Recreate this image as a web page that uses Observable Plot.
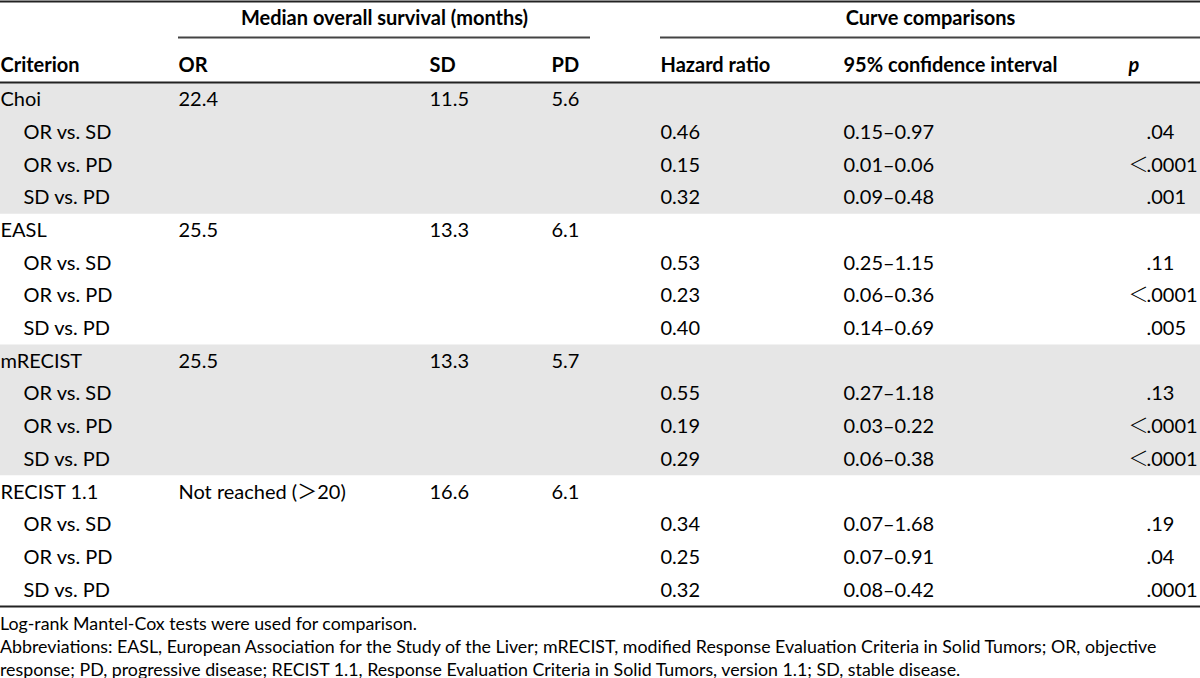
<!DOCTYPE html>
<html>
<head>
<meta charset="utf-8">
<script src="https://cdn.jsdelivr.net/npm/d3@7"></script>
<script src="https://cdn.jsdelivr.net/npm/@observablehq/plot@0.6"></script>
<style>
  html, body { margin: 0; padding: 0; background: #fff; }
  #chart { width: 1200px; }
  #notes { font-family: Lato, "Noto Sans CJK SC", "Noto Sans", sans-serif; font-size: 17.8px; line-height: 23px; color: #000; margin: 0; padding: 0; }
  #notes p { margin: 0; }
</style>
</head>
<body>
<div id="chart"></div>
<div id="notes"></div>
<script>
// ---------- data ----------
const criteria = ["Choi", "EASL", "mRECIST", "RECIST 1.1"];
const medianOR = ["22.4", "25.5", "25.5", "Not reached (\uFF1E20)"];
const medianSD = ["11.5", "13.3", "13.3", "16.6"];
const medianPD = ["5.6", "6.1", "5.7", "6.1"];
const comparisons = ["OR vs. SD", "OR vs. PD", "SD vs. PD"];
const hazardRatio = [
  ["0.46", "0.15", "0.32"],
  ["0.53", "0.23", "0.40"],
  ["0.55", "0.19", "0.29"],
  ["0.34", "0.25", "0.32"]
];
const ciLow = [
  ["0.15", "0.01", "0.09"],
  ["0.25", "0.06", "0.14"],
  ["0.27", "0.03", "0.06"],
  ["0.07", "0.07", "0.08"]
];
const ciHigh = [
  ["0.97", "0.06", "0.48"],
  ["1.15", "0.36", "0.69"],
  ["1.18", "0.22", "0.38"],
  ["1.68", "0.91", "0.42"]
];
const pValues = [
  [".04", "<.0001", ".001"],
  [".11", "<.0001", ".005"],
  [".13", "<.0001", "<.0001"],
  [".19", ".04", ".0001"]
];
const spanners = ["Median overall survival (months)", "Curve comparisons"];
const headers = ["Criterion", "OR", "SD", "PD", "Hazard ratio", "95% confidence interval", "p"];
const footnotes = [
  "Log-rank Mantel-Cox tests were used for comparison.",
  "Abbreviations: EASL, European Association for the Study of the Liver; mRECIST, modified Response Evaluation Criteria in Solid Tumors; OR, objective response; PD, progressive disease; RECIST 1.1, Response Evaluation Criteria in Solid Tumors, version 1.1; SD, stable disease."
];

// ---------- layout ----------
const W = 1200, H = 612;
const colX = [0, 178, 429, 551, 660, 843, 1146];
const pHeadX = 1128;
const indent = 23;
const spanY = 18, headY = 65;
const ruleTop = 1, ruleSpan = 37, ruleHead = 82, ruleBottom = 606;
const spanExtent = [[178, 590], [660, 1200]];
const rowTop = 83, rowH = (ruleBottom - rowTop) / 16;
const fs = 20;

// build table rows
const rows = [];
criteria.forEach((c, g) => {
  rows.push({group: g, cells: [
    {col: 0, text: c}, {col: 1, text: medianOR[g]}, {col: 2, text: medianSD[g]}, {col: 3, text: medianPD[g]}
  ]});
  comparisons.forEach((cmp, k) => {
    const pv = pValues[g][k];
    const lt = pv.startsWith("<");
    rows.push({group: g, cells: [
      {col: 0, text: cmp, indent: true},
      {col: 4, text: hazardRatio[g][k]},
      {col: 5, text: `${ciLow[g][k]}\u2013${ciHigh[g][k]}`},
      {col: 6, text: lt ? pv.slice(1) : pv, lt}
    ]});
  });
});
rows.forEach((r, i) => { r.i = i; r.y = rowTop + (i + 0.5) * rowH; r.y1 = rowTop + i * rowH; r.y2 = r.y1 + rowH; });
const cells = rows.flatMap(r => r.cells.map(c => ({...c, y: r.y, x: colX[c.col] + (c.indent ? indent : 0)})));
const ltMarks = cells.filter(c => c.lt);

const shaded = d3.groups(rows, r => r.group).filter(([g]) => g % 2 === 0)
  .map(([g, rs]) => ({y1: rs[0].y1, y2: rs[rs.length - 1].y2}));

const headerCells = headers.map((h, i) => ({text: h, x: i === 6 ? pHeadX : colX[i], y: headY, italic: i === 6}));
const spanCells = spanners.map((s, i) => ({text: s, x: (spanExtent[i][0] + spanExtent[i][1]) / 2, y: spanY}));
const fullRules = [ruleTop, ruleHead, ruleBottom].map(y => ({x1: 0, x2: W, y}));
const spanRules = spanExtent.map(([a, b]) => ({x1: a, x2: b, y: ruleSpan}));

const font = "Lato, 'Noto Sans CJK SC', 'Noto Sans', sans-serif";

const plot = Plot.plot({
  width: W, height: H,
  margin: 0,
  x: {type: "linear", domain: [0, W], range: [0, W], axis: null},
  y: {type: "linear", domain: [0, H], range: [0, H], axis: null},
  style: {fontFamily: font, background: "#fff"},
  marks: [
    Plot.rect(shaded, {x1: 0, x2: W, y1: "y1", y2: "y2", fill: "#e6e6e6"}),
    Plot.ruleY(fullRules, {y: "y", x1: "x1", x2: "x2", stroke: "#222", strokeWidth: 2}),
    Plot.ruleY(spanRules, {y: "y", x1: "x1", x2: "x2", stroke: "#444", strokeWidth: 2}),
    Plot.text(spanCells, {x: "x", y: "y", text: "text", textAnchor: "middle", fontSize: fs, fontWeight: "bold", fill: "#000"}),
    Plot.text(headerCells.filter(d => !d.italic), {x: "x", y: "y", text: "text", textAnchor: "start", fontSize: fs, fontWeight: "bold", fill: "#000"}),
    Plot.text(headerCells.filter(d => d.italic), {x: "x", y: "y", text: "text", textAnchor: "start", fontSize: fs, fontWeight: "bold", fontStyle: "italic", fill: "#000"}),
    Plot.text(cells, {x: "x", y: "y", text: "text", textAnchor: "start", fontSize: fs, fill: "#000"}),
    Plot.text(ltMarks, {x: "x", y: "y", text: () => "\uFF1C", textAnchor: "end", fontSize: fs, fontFamily: "'Noto Sans CJK SC'", fontWeight: 300, fill: "#000", dx: 2})
  ]
});
document.getElementById("chart").appendChild(plot);
const notes = document.getElementById("notes");
footnotes.forEach(t => { const p = document.createElement("p"); p.textContent = t; notes.appendChild(p); });
</script>
</body>
</html>
